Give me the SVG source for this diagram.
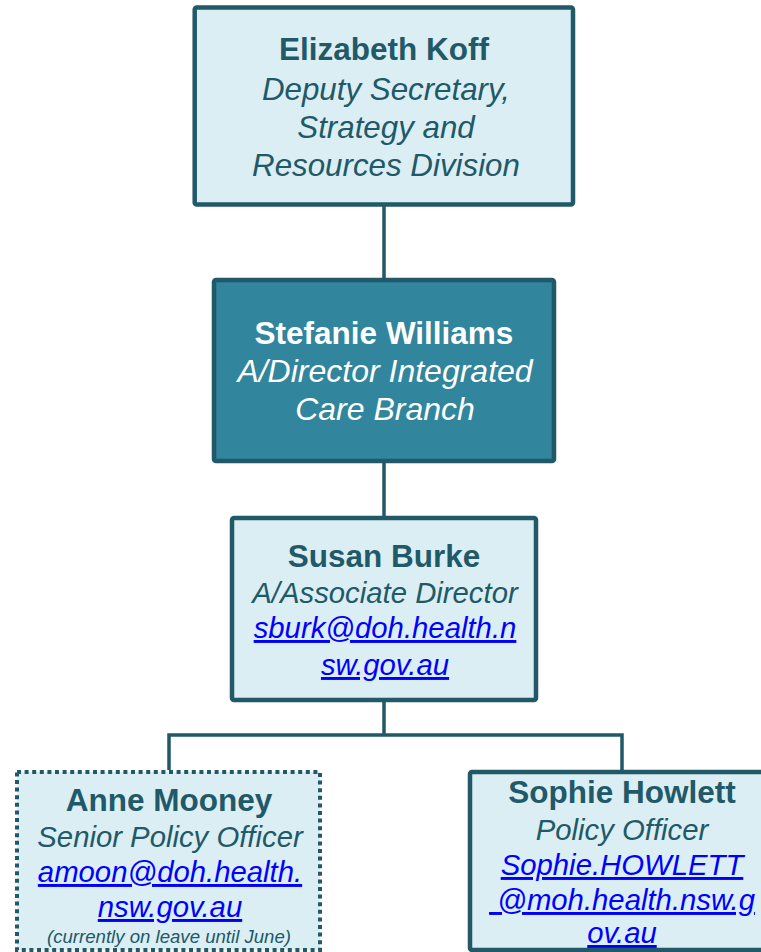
<svg xmlns="http://www.w3.org/2000/svg" width="761" height="952" viewBox="0 0 761 952">
<style>
.box{fill:#DAEEF3;stroke:#215968;stroke-width:4.5}
.dark{fill:#31859C;stroke:#215968;stroke-width:4.5}
.dot{fill:#DAEEF3;stroke:#215968;stroke-width:4;stroke-dasharray:4 3.6}
.conn{fill:none;stroke:#215968;stroke-width:3.5}
text{font-family:"Liberation Sans",Arial,sans-serif;text-anchor:middle}
.n{font-weight:bold;font-size:31.5px;fill:#215968}
.t{font-style:italic;font-size:31.3px;fill:#215968}
.tw{font-style:italic;font-size:32px}
.t2{font-style:italic;font-size:29.3px;fill:#215968}
.l{font-style:italic;font-size:29.3px;fill:#0000FF;text-decoration:underline}
.s{font-style:italic;font-size:18.6px;fill:#215968}
.w{fill:#FFFFFF}
</style>
<g id="connectors">
<line class="conn" x1="384" y1="206" x2="384" y2="278"/>
<line class="conn" x1="384" y1="463" x2="384" y2="516"/>
<path class="conn" d="M384 702 V735 M169 770 V735 H622 V770"/>
</g>
<g id="koff">
<rect class="box" x="194.7" y="7.5" width="378.3" height="197" rx="2"/>
<text class="n" x="384" y="60">Elizabeth Koff</text>
<text class="t" x="386" y="100">Deputy Secretary,</text>
<text class="t" x="386" y="138">Strategy and</text>
<text class="t" x="386" y="176">Resources Division</text>
</g>
<g id="williams">
<rect class="dark" x="214" y="280" width="340" height="181" rx="2"/>
<text class="n w" x="384" y="344">Stefanie Williams</text>
<text class="tw w" x="385" y="382">A/Director Integrated</text>
<text class="tw w" x="385" y="420">Care Branch</text>
</g>
<g id="burke">
<rect class="box" x="232" y="518" width="304" height="182" rx="2"/>
<text class="n" x="384" y="567">Susan Burke</text>
<text class="t2" x="385" y="603">A/Associate Director</text>
<text class="l" x="385" y="638">sburk@doh.health.n</text>
<text class="l" x="385" y="675">sw.gov.au</text>
</g>
<g id="mooney">
<rect class="dot" x="17" y="772" width="303" height="178"/>
<text class="n" x="169" y="811">Anne Mooney</text>
<text class="t2" x="170" y="847">Senior Policy Officer</text>
<text class="l" x="170" y="882">amoon@doh.health.</text>
<text class="l" x="170" y="917">nsw.gov.au</text>
<text class="s" x="169" y="943">(currently on leave until June)</text>
</g>
<g id="howlett">
<rect class="box" x="470" y="772" width="304" height="178" rx="2"/>
<text class="n" x="622" y="803">Sophie Howlett</text>
<text class="t2" x="622" y="840">Policy Officer</text>
<text class="l" x="622" y="875">Sophie.HOWLETT</text>
<text class="l" x="622" y="910" xml:space="preserve"> @moh.health.nsw.g</text>
<text class="l" x="622" y="943">ov.au</text>
</g>
</svg>
